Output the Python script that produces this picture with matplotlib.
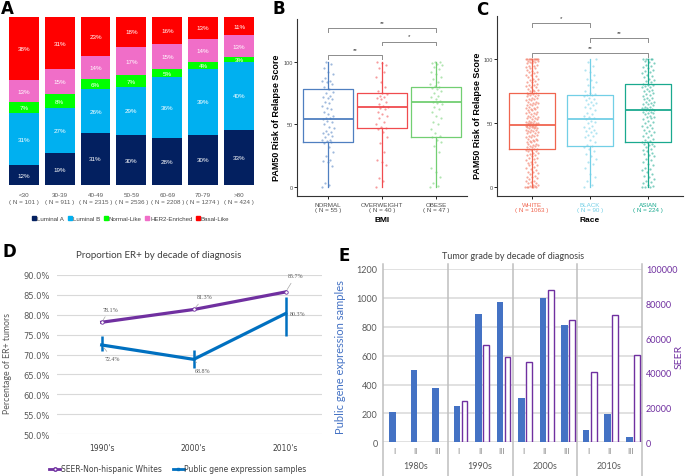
import numpy as np
import matplotlib
matplotlib.use("Agg")
import matplotlib.pyplot as plt
from matplotlib.lines import Line2D

plt.rcParams['font.family'] = ['Liberation Sans', 'DejaVu Sans']

W, H = 685, 477

# ---- Panel A: PAM50 subtype by age group ----
ages = ['<30', '30-39', '40-49', '50-59', '60-69', '70-79', '>80']
age_n = [101, 911, 2315, 2536, 2208, 1274, 424]
lum_a = [12, 19, 31, 30, 28, 30, 33]
lum_b = [31, 27, 26, 29, 36, 39, 40]
normal_like = [7, 8, 6, 7, 5, 4, 3]
her2 = [13, 15, 14, 17, 15, 14, 13]
basal = [38, 31, 23, 18, 16, 13, 11]
subtypes = ['Luminal A', 'Luminal B', 'Normal-Like', 'HER2-Enriched', 'Basal-Like']
subtype_colors = ['#032060', '#00b0f0', '#00ff00', '#f06ec8', '#ff0000']

# ---- Panel B: ROR score by BMI ----
bmi_groups = ['NORMAL', 'OVERWEIGHT', 'OBESE']
bmi_n = [55, 40, 47]
bmi_q1 = [36, 47, 40]
bmi_med = [54, 64, 68]
bmi_q3 = [78, 75, 80]
bmi_colors = ['#4f7fc0', '#f04b4f', '#72cf72']
normal_pts = [0, 2, 3, 17, 20, 21, 22, 25, 28, 32, 35, 36, 37, 38, 38, 40, 41, 42, 43,
              44, 45, 47, 48, 50, 52, 53, 54, 55, 55, 57, 58, 60, 62, 63, 65, 67, 68, 70,
              71, 72, 73, 75, 76, 78, 80, 82, 84, 85, 85, 87, 90, 92, 95, 98, 100]
overweight_pts = [0, 5, 7, 18, 20, 22, 28, 35, 40, 44, 46, 47, 48, 50, 52, 55, 57, 58, 60,
                  62, 63, 64, 65, 66, 68, 70, 71, 72, 73, 74, 75, 77, 80, 84, 88, 92, 95,
                  97, 99, 100]
obese_pts = [0, 1, 3, 8, 12, 15, 28, 33, 36, 38, 40, 41, 43, 46, 50, 52, 55, 57, 60, 62,
             64, 66, 67, 68, 69, 70, 72, 73, 75, 77, 78, 79, 80, 81, 82, 84, 86, 88, 90,
             92, 94, 96, 97, 98, 99, 100, 100]

# ---- Panel C: ROR score by race ----
races = ['WHITE', 'BLACK', 'ASIAN']
race_n = [1063, 90, 224]
race_q1 = [30, 32, 35]
race_med = [49, 53, 60.5]
race_q3 = [74, 72, 80.5]
race_colors = ['#f0654f', '#72cfe6', '#1aa98f']
white_pts = [0, 0, 0, 0, 0, 0, 1, 1, 2, 2, 3, 3, 4, 5, 5, 6, 7, 8, 8, 9, 10, 11, 12, 12, 13,
             14, 15, 16, 17, 17, 18, 19, 20, 20, 21, 22, 23, 23, 24, 25, 25, 26, 27, 27, 28,
             28, 29, 29, 30, 30, 30, 31, 31, 32, 32, 33, 33, 34, 34, 35, 35, 36, 36, 37, 37,
             38, 38, 39, 39, 40, 40, 41, 41, 42, 42, 43, 43, 44, 44, 45, 45, 45, 46, 46, 46,
             47, 47, 47, 48, 48, 48, 49, 49, 49, 49, 49, 50, 50, 50, 50, 50, 51, 51, 52, 52,
             53, 53, 54, 54, 55, 55, 56, 56, 57, 57, 58, 58, 59, 59, 60, 60, 61, 61, 62, 62,
             63, 63, 64, 64, 65, 65, 66, 66, 67, 67, 68, 68, 69, 69, 70, 70, 71, 71, 72, 72,
             73, 73, 74, 74, 74, 75, 75, 76, 76, 77, 78, 78, 79, 80, 80, 81, 82, 82, 83, 84,
             85, 85, 86, 87, 88, 88, 89, 90, 90, 91, 92, 93, 93, 94, 95, 95, 96, 97, 97, 98,
             98, 99, 99, 99, 100, 100, 100, 100, 100, 100, 100, 100, 100, 100, 100]
black_pts = [0, 2, 5, 8, 10, 15, 18, 20, 22, 24, 26, 28, 30, 31, 32, 33, 35, 37, 39, 40, 41,
             42, 43, 44, 45, 46, 47, 48, 50, 51, 52, 53, 54, 55, 56, 57, 58, 60, 62, 63, 64,
             65, 66, 67, 68, 69, 70, 71, 72, 72, 73, 74, 75, 78, 80, 82, 84, 85, 88, 90, 92,
             95, 98, 100]
asian_pts = [0, 0, 0, 1, 2, 3, 4, 5, 6, 8, 9, 10, 12, 13, 14, 15, 17, 18, 20, 21, 22, 24, 25,
             26, 27, 28, 29, 30, 31, 32, 33, 34, 34, 35, 35, 36, 37, 38, 39, 40, 41, 42, 43,
             44, 45, 46, 47, 48, 49, 50, 51, 52, 53, 54, 55, 55, 56, 57, 58, 58, 59, 59, 60,
             60, 60, 61, 61, 62, 62, 63, 63, 64, 65, 65, 66, 67, 67, 68, 69, 70, 70, 71, 72,
             73, 74, 75, 75, 76, 77, 78, 78, 79, 80, 80, 81, 82, 83, 84, 85, 86, 87, 88, 89,
             90, 91, 92, 93, 94, 95, 96, 97, 98, 99, 100, 100, 100, 100, 100]

# ---- Panel D: proportion ER+ ----
er_decades = ["1990's", "2000's", "2010's"]
seer_er = [78.1, 81.3, 85.7]
public_er = [72.4, 68.8, 80.3]
public_er_lo = [71.0, 66.6, 74.7]
public_er_hi = [74.6, 71.2, 84.4]

# ---- Panel E: tumor grade by decade ----
grade_decades = ['1980s', '1990s', '2000s', '2010s']
grades = ['I', 'II', 'III']
public_grade = [212, 503, 379, 254, 885, 970, 305, 998, 815, 85, 193, 34]
seer_grade = [np.nan, np.nan, np.nan, 23700, 55900, 49500, 46200, 88000, 70800,
              40300, 73700, 50500]

fig = plt.figure(figsize=(W / 100, H / 100), dpi=100)


def ax_px(l, t, r, b):
    return fig.add_axes([l / W, 1 - b / H, (r - l) / W, (b - t) / H])


def jitter(n, spread):
    return (np.modf(np.arange(n) * 0.6180339887)[0] - 0.5) * 2 * spread


def bracket(ax, x1, x2, y, txt, drop=3):
    ax.plot([x1, x1, x2, x2], [y - drop, y, y, y - drop], color='#8c8c8c', lw=0.7,
            clip_on=False)
    ax.text((x1 + x2) / 2, y + 2.5, txt, ha='center', va='bottom', fontsize=4.5,
            color='#333333')


# panel letters
for lab, x, y in [('A', 1, 9), ('B', 273, 9), ('C', 476, 10), ('D', 2, 252), ('E', 339, 256)]:
    fig.text(x / W, 1 - y / H, lab, fontsize=12, fontweight='bold', va='center',
             family=['DejaVu Sans'])

# ================= A =================
axA = ax_px(5.8, 18, 257, 186)
seg = np.array([lum_a, lum_b, normal_like, her2, basal], dtype=float)
frac = seg / seg.sum(axis=0)
xa = np.arange(len(ages))
bottom = np.zeros(len(ages))
for k in range(len(subtypes)):
    axA.bar(xa, frac[k], 0.835, bottom=bottom, color=subtype_colors[k], lw=0)
    for i in range(len(ages)):
        axA.text(xa[i], bottom[i] + frac[k][i] / 2, f'{int(seg[k][i])}%', ha='center',
                 va='center', fontsize=4.5, color='white',
                 family=['Liberation Sans Narrow', 'Liberation Sans'])
    bottom += frac[k]
axA.set_xlim(-0.5, len(ages) - 0.5)
axA.set_ylim(0, 1)
axA.set_yticks([])
axA.set_xticks(xa)
axA.set_xticklabels([f'{a}\n( N = {n} )' for a, n in zip(ages, age_n)], fontsize=4.5,
                    color='#595959', linespacing=1.5,
                    family=['Liberation Sans Narrow', 'Liberation Sans'])
axA.tick_params(axis='x', length=0, pad=5)
for s in axA.spines.values():
    s.set_visible(False)
handles = [Line2D([], [], marker='s', ls='none', color=c, markersize=2.3) for c in subtype_colors]
fig.legend(handles, subtypes, loc='center', bbox_to_anchor=(131 / W, 1 - 219 / H), ncol=5,
           frameon=False, handletextpad=0.2, columnspacing=0.6, handlelength=0.6,
           prop=dict(size=4.4, family=['Liberation Sans Narrow', 'Liberation Sans']),
           labelcolor='#404040')


# ================= B & C =================
def box_panel(ax, names, ns, q1, med, q3, colors, pts, width, spread, ylabel, xlabel,
              color_ticks):
    pos = np.arange(1, len(names) + 1)
    stats = [dict(q1=q1[i], med=med[i], q3=q3[i], whislo=0, whishi=100)
             for i in range(len(names))]
    art = ax.bxp(stats, positions=pos, widths=width, showfliers=False, showcaps=False,
                 manage_ticks=False)
    for i, c in enumerate(colors):
        art['boxes'][i].set(color=c, lw=0.9)
        art['medians'][i].set(color=c, lw=1.3)
        art['whiskers'][2 * i].set(color=c, lw=0.9)
        art['whiskers'][2 * i + 1].set(color=c, lw=0.9)
        vals = np.array(pts[i])
        ax.scatter(pos[i] + jitter(len(vals), spread), vals, s=2.5, color=c, alpha=0.55,
                   lw=0, zorder=3)
    ax.set_ylim(-7, 134)
    ax.set_yticks([0, 50, 100])
    ax.tick_params(axis='y', labelsize=4, labelcolor='#4d4d4d', length=2, width=0.6, pad=1)
    ax.set_xticks(pos)
    ax.set_xticklabels([f'{n}\n( N = {k} )' for n, k in zip(names, ns)], fontsize=4.5,
                       linespacing=1.1)
    ax.tick_params(axis='x', length=2, width=0.6, pad=2)
    for i, t in enumerate(ax.get_xticklabels()):
        t.set_color(colors[i] if color_ticks else '#4d4d4d')
    for s in ['top', 'right']:
        ax.spines[s].set_visible(False)
    for s in ['left', 'bottom']:
        ax.spines[s].set_color('#333333')
        ax.spines[s].set_linewidth(0.8)
    ax.set_ylabel(ylabel, fontsize=6.5, fontweight='bold')
    ax.set_xlabel(xlabel, fontsize=6, fontweight='bold', labelpad=3)


axB = ax_px(297, 20, 467, 197)
box_panel(axB, bmi_groups, bmi_n, bmi_q1, bmi_med, bmi_q3, bmi_colors,
          [normal_pts, overweight_pts, obese_pts], 0.93, 0.11,
          'PAM50 Risk of Relapse Score', 'BMI', False)
axB.set_xlim(0.43, 3.57)
axB.yaxis.set_label_coords(-16 / 170, 0.45)
bracket(axB, 1, 3, 126.8, '**')
bracket(axB, 2, 3, 116, '*')
bracket(axB, 1, 2, 105, '**')

axC = ax_px(497, 17, 683, 197)
box_panel(axC, races, race_n, race_q1, race_med, race_q3, race_colors,
          [white_pts, black_pts, asian_pts], 0.8, 0.11,
          'PAM50 Risk of Relapse Score', 'Race', True)
axC.set_xlim(0.4, 3.6)
axC.yaxis.set_label_coords(-15 / 186, 0.45)
bracket(axC, 1, 2, 128.4, '*')
bracket(axC, 2, 3, 116.6, '**')
bracket(axC, 1, 3, 104.7, '**')

# ================= D =================
axD = ax_px(57, 275.8, 322, 435.3)
xd = np.arange(len(er_decades))
axD.set_xlim(-0.486, 2.395)
axD.set_ylim(50, 90)
axD.set_yticks(np.arange(50, 90.1, 5))
axD.set_yticklabels([f'{v:.1f}%' for v in np.arange(50, 90.1, 5)], family=['DejaVu Sans'])
axD.grid(axis='y', color='#d9d9d9', lw=0.8)
axD.set_axisbelow(True)
for s in axD.spines.values():
    s.set_visible(False)
axD.tick_params(axis='y', length=0, labelsize=6, labelcolor='#595959', pad=5)
axD.set_xticks(xd)
axD.set_xticklabels(er_decades, family=['DejaVu Sans'])
axD.tick_params(axis='x', length=0, labelsize=5.5, labelcolor='#404040', pad=6)
axD.plot(xd, seer_er, color='#7030a0', lw=2.3, marker='o', ms=2.5, mfc='white',
         mec='#7030a0', mew=0.6, zorder=3)
axD.plot(xd, public_er, color='#0070c0', lw=2.3, zorder=3)
axD.vlines(xd, public_er_lo, public_er_hi, color='#0070c0', lw=1.8, zorder=3)
lab_font = dict(fontsize=4.3, color='#595959', family=['Liberation Serif'])
arrow = dict(arrowstyle='-', color='#a6a6a6', lw=0.5)
seer_lab_pos = [(0.09, 81.4), (1.12, 84.5), (2.11, 89.8)]
pub_lab_pos = [(0.12, 68.9), (1.1, 66.1), (2.13, 80.4)]
for i in range(3):
    axD.annotate(f'{seer_er[i]}%', (xd[i], seer_er[i]), xytext=seer_lab_pos[i],
                 ha='center', va='center', arrowprops=arrow, annotation_clip=False,
                 **lab_font)
    axD.annotate(f'{public_er[i]}%', (xd[i], public_er[i]), xytext=pub_lab_pos[i],
                 ha='center', va='center', arrowprops=arrow if i < 2 else None,
                 annotation_clip=False, **lab_font)
axD.set_ylabel('Percentage of ER+ tumors', fontsize=6.3, color='#595959', family=['Lato'])
axD.yaxis.set_label_coords(-(57 - 12) / 265, 0.45)
fig.text(159 / W, 1 - 255 / H, 'Proportion ER+ by decade of diagnosis', ha='center',
         va='center', fontsize=7, color='#404040', family=['Lato'])
hD = [Line2D([], [], color='#7030a0', lw=2, marker='o', ms=2.5, mfc='white', mec='#7030a0'),
      Line2D([], [], color='#0070c0', lw=2, marker='s', ms=2)]
fig.legend(hD, ['SEER-Non-hispanic Whites', 'Public gene expression samples'],
           loc='center', bbox_to_anchor=(178 / W, 1 - 470 / H), ncol=2, frameon=False,
           handlelength=1.4, handletextpad=0.1, columnspacing=1.5,
           prop=dict(size=5.5, family=['DejaVu Sans']), labelcolor='#404040')

# ================= E =================
axE = ax_px(383.3, 270, 641.7, 443.3)
axE2 = axE.twinx()
xe = np.arange(len(public_grade))
axE.bar(xe - 0.08, public_grade, 0.31, color='#4472c4', zorder=2)
seer_arr = np.array(seer_grade)
ok = ~np.isnan(seer_arr)
axE2.bar(xe[ok] + 0.27, seer_arr[ok], 0.27, facecolor='white', edgecolor='#7030a0', lw=1.0)
axE.set_xlim(-0.5, len(public_grade) - 0.5)
axE.set_ylim(0, 1200)
axE2.set_ylim(0, 100000)
axE.set_yticks(range(0, 1201, 200))
axE2.set_yticks(range(0, 100001, 20000))
axE.grid(axis='y', color='#d9d9d9', lw=1.1)
axE.set_axisbelow(True)
axE.set_xticks([])
for a in (axE, axE2):
    for s in a.spines.values():
        s.set_visible(False)
axE.tick_params(axis='y', length=0, labelsize=6.5, labelcolor='#595959', pad=4)
axE2.tick_params(axis='y', length=0, labelsize=6.5, labelcolor='#7030a0', pad=3)
for t in axE.get_yticklabels() + axE2.get_yticklabels():
    t.set_family(['Lato'])
trans = axE.get_xaxis_transform()
for xb in [-0.5, 2.5, 5.5, 8.5, 11.5]:
    axE.plot([xb, xb], [1.03, -0.195], transform=trans, color='#bfbfbf', lw=1.1,
             clip_on=False)
for i in xe:
    axE.text(i, -0.045, grades[i % 3], transform=trans, ha='center', va='center',
             fontsize=5.5, color='#7f7f7f', family=['Lato'])
for j, d in enumerate(grade_decades):
    axE.text(3 * j + 1, -0.131, d, transform=trans, ha='center', va='center',
             fontsize=6.5, color='#595959', family=['Lato'])
axE.set_ylabel('Public gene expression samples', fontsize=8, color='#4472c4', family=['Lato'])
axE.yaxis.set_label_coords(-(383.3 - 346) / 258.4, 0.5)
axE2.set_ylabel('SEER', fontsize=7.5, color='#7030a0', family=['Lato'])
axE2.yaxis.set_label_coords(1 + (675 - 641.7) / 258.4, 0.5)
fig.text(513 / W, 1 - 257 / H, 'Tumor grade by decade of diagnosis', ha='center',
         va='center', fontsize=6.5, color='#404040', family=['Lato'])

fig.savefig('out.png', dpi=100)
